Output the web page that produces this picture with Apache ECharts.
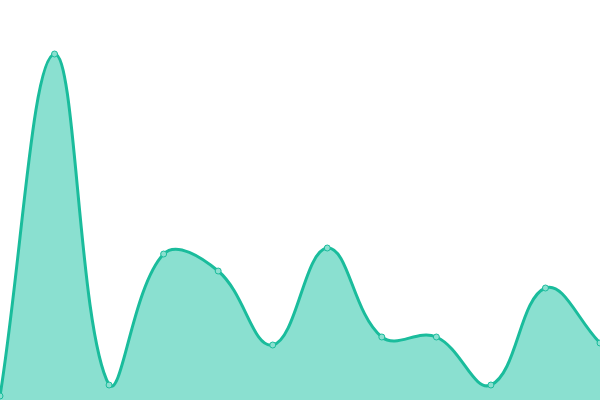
<!DOCTYPE html>
<html><head><meta charset="utf-8">
<script src="https://cdn.jsdelivr.net/npm/echarts@6/dist/echarts.min.js"></script>
<style>html,body{margin:0;padding:0;background:#fff}#c{width:600px;height:400px}</style>
</head><body><div id="c"></div>
<script>
const categories = ['1','2','3','4','5','6','7','8','9','10','11','12'];
const values = [4, 346, 15, 146, 129, 55, 152, 63, 63, 15, 112, 57];
const tension = 0.4;
const lineColor = '#1abc9c';
const fillColor = '#8ae0d0';

function renderItem(params, api) {
  if (params.dataIndex !== 0) return null;
  const pts = values.map((v, i) => api.coord([i, v]));
  const bottom = api.coord([0, 0])[1];
  const n = pts.length;
  const cps = pts.map((p, i) => {
    const prev = pts[Math.max(0, i - 1)];
    const next = pts[Math.min(n - 1, i + 1)];
    const d01 = Math.hypot(p[0] - prev[0], p[1] - prev[1]);
    const d12 = Math.hypot(next[0] - p[0], next[1] - p[1]);
    const tot = d01 + d12 || 1;
    const fa = tension * d01 / tot, fb = tension * d12 / tot;
    const dx = next[0] - prev[0], dy = next[1] - prev[1];
    return {
      prev: [p[0] - fa * dx, Math.min(bottom, Math.max(0, p[1] - fa * dy))],
      next: [p[0] + fb * dx, Math.min(bottom, Math.max(0, p[1] + fb * dy))]
    };
  });
  let d = 'M' + pts[0][0] + ' ' + pts[0][1];
  for (let i = 1; i < n; i++) {
    const a = cps[i - 1].next, b = cps[i].prev, p = pts[i];
    d += ' C' + a[0] + ' ' + a[1] + ' ' + b[0] + ' ' + b[1] + ' ' + p[0] + ' ' + p[1];
  }
  const area = d + ' L' + pts[n - 1][0] + ' ' + bottom + ' L' + pts[0][0] + ' ' + bottom + ' Z';
  const children = [
    {type: 'path', shape: {pathData: area}, style: {fill: fillColor, stroke: null}},
    {type: 'path', shape: {pathData: d}, style: {fill: null, stroke: lineColor, lineWidth: 3}}
  ];
  pts.forEach(p => children.push({
    type: 'circle', shape: {cx: p[0], cy: p[1], r: 3},
    style: {fill: fillColor, stroke: lineColor, lineWidth: 1}
  }));
  return {type: 'group', children};
}

const chart = echarts.init(document.getElementById('c'));
chart.setOption({
  animation: false,
  grid: {left: 0, right: 0, top: 0, bottom: 0},
  xAxis: {type: 'category', data: categories, boundaryGap: false, show: false},
  yAxis: {type: 'value', min: 0, max: 400, show: false},
  series: [{
    type: 'custom',
    clip: false,
    renderItem: renderItem,
    data: values.map((v, i) => [i, v])
  }]
});
</script></body></html>
